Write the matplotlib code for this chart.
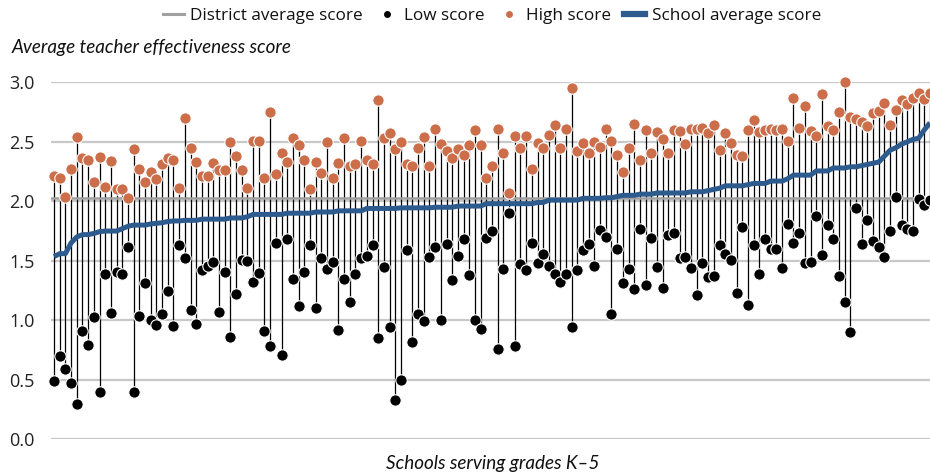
import matplotlib
matplotlib.use("Agg")
import matplotlib.pyplot as plt
from matplotlib.lines import Line2D
import numpy as np

high_score = [2.21, 2.20, 2.04, 2.27, 2.54, 2.36, 2.35, 2.16, 2.37, 2.12,
              2.34, 2.10, 2.10, 2.03, 2.44, 2.27, 2.16, 2.25, 2.19, 2.31,
              2.36, 2.35, 2.11, 2.70, 2.45, 2.33, 2.21, 2.21, 2.32, 2.26,
              2.26, 2.50, 2.38, 2.26, 2.11, 2.51, 2.51, 2.20, 2.75, 2.23,
              2.41, 2.33, 2.53, 2.47, 2.35, 2.10, 2.33, 2.24, 2.50, 2.20,
              2.32, 2.53, 2.30, 2.31, 2.51, 2.35, 2.31, 2.85, 2.53, 2.57,
              2.44, 2.50, 2.31, 2.30, 2.45, 2.54, 2.30, 2.61, 2.48, 2.42,
              2.36, 2.44, 2.39, 2.47, 2.60, 2.47, 2.20, 2.30, 2.61, 2.41,
              2.07, 2.55, 2.45, 2.55, 2.27, 2.49, 2.45, 2.56, 2.64, 2.45,
              2.61, 2.95, 2.42, 2.49, 2.41, 2.50, 2.46, 2.61, 2.51, 2.39,
              2.25, 2.45, 2.65, 2.35, 2.60, 2.41, 2.58, 2.52, 2.41, 2.60,
              2.59, 2.48, 2.61, 2.61, 2.62, 2.57, 2.64, 2.43, 2.57, 2.49,
              2.39, 2.38, 2.60, 2.68, 2.58, 2.60, 2.61, 2.60, 2.61, 2.51,
              2.87, 2.62, 2.80, 2.59, 2.55, 2.90, 2.63, 2.60, 2.75, 3.00,
              2.71, 2.69, 2.67, 2.63, 2.74, 2.76, 2.83, 2.64, 2.77, 2.85,
              2.82, 2.87, 2.91, 2.86, 2.91]

low_score = [0.49, 0.70, 0.59, 0.47, 0.30, 0.91, 0.79, 1.03, 0.40, 1.39,
             1.06, 1.41, 1.39, 1.62, 0.40, 1.04, 1.31, 1.00, 0.96, 1.05,
             1.25, 0.95, 1.63, 1.52, 1.09, 0.97, 1.42, 1.46, 1.49, 1.07,
             1.41, 0.86, 1.22, 1.51, 1.50, 1.32, 1.40, 0.91, 0.78, 1.65,
             0.71, 1.68, 1.35, 1.12, 1.41, 1.63, 1.10, 1.52, 1.43, 1.49,
             0.92, 1.35, 1.15, 1.39, 1.52, 1.54, 1.63, 0.85, 1.45, 0.94,
             0.33, 0.50, 1.59, 0.82, 1.05, 0.99, 1.53, 1.62, 1.00, 1.64,
             1.34, 1.54, 1.68, 1.38, 1.00, 0.93, 1.69, 1.75, 0.76, 1.43,
             1.90, 0.78, 1.47, 1.42, 1.65, 1.48, 1.56, 1.46, 1.39, 1.32,
             1.39, 0.94, 1.42, 1.59, 1.64, 1.46, 1.76, 1.70, 1.05, 1.60,
             1.31, 1.43, 1.26, 1.77, 1.30, 1.69, 1.45, 1.27, 1.72, 1.73,
             1.52, 1.53, 1.44, 1.21, 1.48, 1.36, 1.37, 1.63, 1.56, 1.51,
             1.23, 1.78, 1.13, 1.63, 1.39, 1.68, 1.60, 1.60, 1.44, 1.81,
             1.65, 1.73, 1.48, 1.49, 1.88, 1.55, 1.80, 1.68, 1.37, 1.15,
             0.90, 1.94, 1.64, 1.84, 1.67, 1.62, 1.53, 1.75, 2.04, 1.80,
             1.77, 1.75, 2.02, 1.97, 2.01]

school_avg = [1.535, 1.56, 1.56, 1.65, 1.70, 1.72, 1.72, 1.73, 1.745, 1.75,
              1.75, 1.75, 1.77, 1.79, 1.80, 1.80, 1.80, 1.81, 1.815, 1.82,
              1.83, 1.835, 1.835, 1.84, 1.84, 1.84, 1.85, 1.85, 1.85, 1.85,
              1.85, 1.86, 1.86, 1.86, 1.87, 1.89, 1.89, 1.89, 1.89, 1.89,
              1.89, 1.90, 1.90, 1.90, 1.90, 1.90, 1.91, 1.91, 1.91, 1.91,
              1.92, 1.92, 1.92, 1.92, 1.92, 1.94, 1.94, 1.94, 1.94, 1.94,
              1.94, 1.945, 1.945, 1.945, 1.945, 1.945, 1.945, 1.95, 1.95, 1.95,
              1.95, 1.96, 1.96, 1.96, 1.96, 1.96, 1.98, 1.98, 1.98, 1.98,
              1.98, 1.98, 1.98, 1.98, 1.98, 1.99, 1.99, 2.01, 2.01, 2.01,
              2.01, 2.01, 2.01, 2.025, 2.025, 2.025, 2.025, 2.03, 2.03, 2.04,
              2.05, 2.05, 2.05, 2.06, 2.06, 2.06, 2.07, 2.07, 2.07, 2.07,
              2.07, 2.07, 2.08, 2.08, 2.08, 2.09, 2.10, 2.11, 2.13, 2.13,
              2.13, 2.13, 2.14, 2.15, 2.15, 2.15, 2.17, 2.17, 2.17, 2.19,
              2.22, 2.22, 2.22, 2.22, 2.255, 2.255, 2.255, 2.28, 2.28, 2.28,
              2.29, 2.29, 2.30, 2.31, 2.32, 2.33, 2.38, 2.43, 2.45, 2.48,
              2.50, 2.52, 2.53, 2.60, 2.66]

district_avg = 2.03
y_ticks = [0.0, 0.5, 1.0, 1.5, 2.0, 2.5, 3.0]
y_tick_labels = ["0.0", "0.5", "1.0", "1.5", "2.0", "2.5", "3.0"]

C_HIGH = "#CD6E4B"
C_LOW = "#000000"
C_AVG = "#2E5B8E"
C_DIST = "#A0A0A0"
C_GRID = "#C8C8C8"

plt.rcParams['font.family'] = ['Lato', 'DejaVu Sans']

fig = plt.figure(figsize=(9.3, 4.75), dpi=100)
ax = fig.add_axes([51/930, 1 - 439.3/475, 1 - 51/930, (439.3 - 82.3)/475])

x = np.arange(len(high_score))

for yv in y_ticks:
    ax.axhline(yv, color=C_GRID, lw=1.6, zorder=0)

ax.vlines(x, low_score, high_score, color="#000000", lw=0.9, zorder=2)
ax.axhline(district_avg, color=C_DIST, lw=1.8, zorder=3)
ax.plot(x, school_avg, color=C_AVG, lw=3.6, zorder=4, solid_capstyle='butt')
ax.plot(x, low_score, ls='none', marker='o', ms=8.2, mfc=C_LOW, mec='white',
        mew=0.8, zorder=5, clip_on=False)
ax.plot(x, high_score, ls='none', marker='o', ms=8.2, mfc=C_HIGH, mec='white',
        mew=0.8, zorder=6, clip_on=False)

ax.set_xlim(-0.53, len(high_score) - 1)
ax.set_ylim(0, 3.0)
ax.set_yticks(y_ticks)
ax.set_yticklabels(y_tick_labels, fontfamily='Open Sans', fontsize=13, color='#222222')
ax.tick_params(axis='y', length=0, pad=12)
ax.set_xticks([])
for s in ax.spines.values():
    s.set_visible(False)

fig.text(12/930, 1 - 48/475, "Average teacher effectiveness score", style='italic',
         fontsize=13.6, color='#111111', ha='left', va='center')
fig.text(493/930, 1 - 464/475, "Schools serving grades K\u20135", style='italic',
         fontsize=13.6, color='#111111', ha='center', va='center')

handles = [
    Line2D([], [], color=C_DIST, lw=2.2),
    Line2D([], [], ls='none', marker='o', ms=6, mfc=C_LOW, mec='white'),
    Line2D([], [], ls='none', marker='o', ms=6, mfc=C_HIGH, mec='white'),
    Line2D([], [], color=C_AVG, lw=4.5),
]
labels = ["District average score", "Low score", "High score", "School average score"]
fig.legend(handles, labels, loc='center', bbox_to_anchor=(492/930, 1 - 16/475), ncol=4,
           frameon=False, prop={'family': 'Open Sans', 'size': 12.3},
           handlelength=1.2, handletextpad=0.4, columnspacing=0.8, labelcolor='#111111')

fig.savefig("out.png", dpi=100)
